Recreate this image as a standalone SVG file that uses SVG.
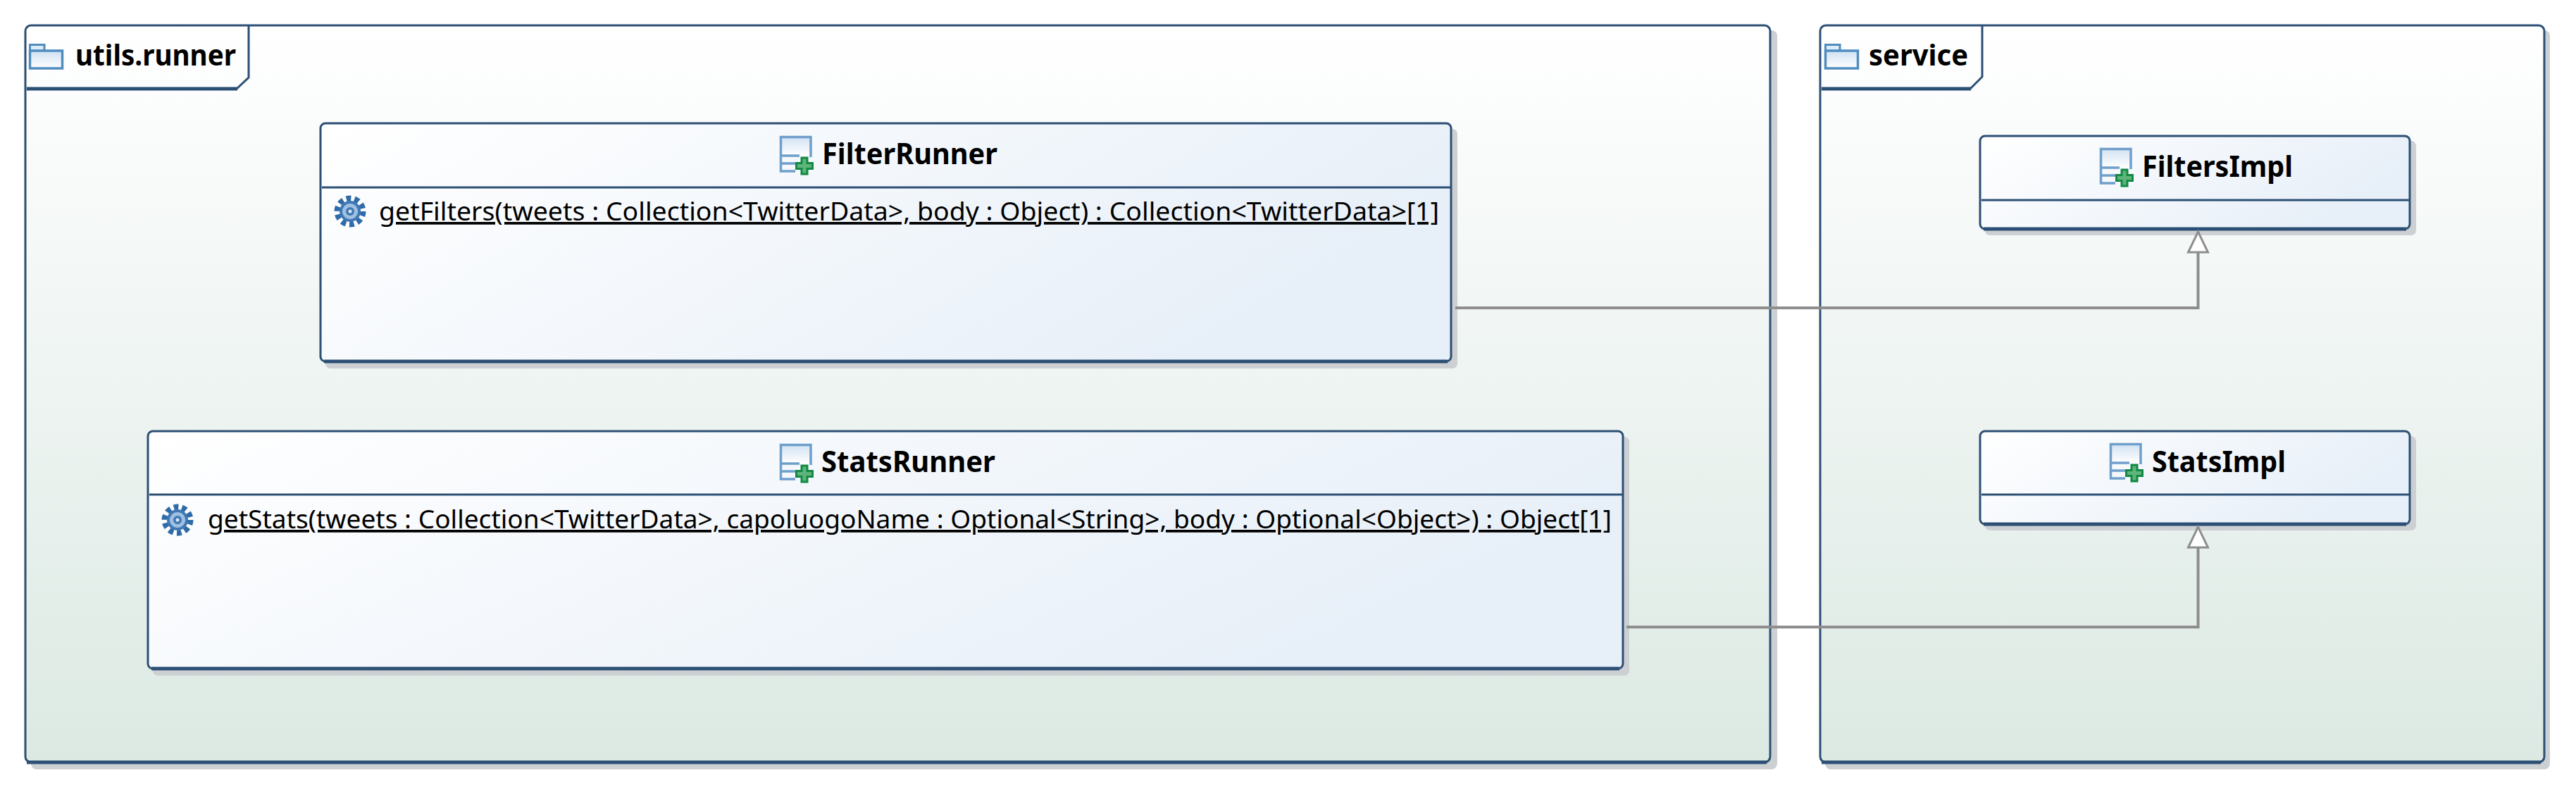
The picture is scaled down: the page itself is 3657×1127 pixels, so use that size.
<svg xmlns="http://www.w3.org/2000/svg" xmlns:xlink="http://www.w3.org/1999/xlink" width="3657" height="1127" viewBox="0 0 3657 1127">
<style>
.shadow{fill:#cdd0d2;stroke:none}
.border{stroke:#2c4f75;stroke-width:3;fill:none}
.pkgbg{fill:url(#pkgGrad);stroke:#2c4f75;stroke-width:3}
.clsbg{fill:url(#clsGrad);stroke:#2c4f75;stroke-width:3}
.thick{stroke:#2c4f75;stroke-width:5;fill:none}
.div{stroke:#2c4f75;stroke-width:3;fill:none}
.title{font-family:"Noto Sans","Open Sans",sans-serif;font-weight:700;font-size:42px;fill:#000}
.op{font-family:"Noto Sans","Open Sans",sans-serif;font-weight:400;font-size:37px;fill:#000;text-decoration:underline}
.conn{stroke:#8e8e8e;stroke-width:4;fill:none}
</style>
<defs>
<linearGradient id="pkgGrad" x1="0" y1="0" x2="0" y2="1"><stop offset="0" stop-color="#ffffff"/><stop offset="1" stop-color="#dce9e3"/></linearGradient>
<linearGradient id="clsGrad" x1="0" y1="0" x2="1" y2="0.35"><stop offset="0" stop-color="#ffffff"/><stop offset="1" stop-color="#e7eff8"/></linearGradient>
<linearGradient id="iconGrad" x1="0" y1="0" x2="0" y2="1"><stop offset="0" stop-color="#cfe0f2"/><stop offset="1" stop-color="#ffffff"/></linearGradient>
<marker id="gen" markerUnits="userSpaceOnUse" markerWidth="36" markerHeight="36" refX="32" refY="17" orient="auto" viewBox="0 0 36 34">
<path d="M3 3 L32 17 L3 31 Z" fill="#ffffff" stroke="#8e8e8e" stroke-width="3"/>
</marker>
<g id="classIcon">
<path d="M0 28 V0 H45 V28 H0" fill="url(#iconGrad)" stroke="none"/>
<path d="M44 30 V1.500 H1.500 V50 H22" fill="none" stroke="#6f9fcb" stroke-width="3.500"/>
<path d="M3 28 H28 M3 39 H22" fill="none" stroke="#6f9fcb" stroke-width="3.500"/>
<path d="M23.500 38.500 h7.500 v-7.500 h8 v7.500 h7.500 v8 h-7.500 v7.500 h-8 v-7.500 h-7.500 Z" fill="#5fb47c" stroke="#128a43" stroke-width="3"/>
</g>
<g id="folderIcon">
<path d="M1.500 11 V1.500 H22 V11" fill="#dcebf8" stroke="#4f8dbf" stroke-width="3"/>
<rect x="1.500" y="10" width="46" height="25" fill="url(#iconGrad)" stroke="#4f8dbf" stroke-width="3.500"/>
</g>
<g id="gearIcon">
<circle r="18" fill="none" stroke="#2f6ba8" stroke-width="9" stroke-dasharray="6.500 4.800"/>
<circle r="15" fill="#3f78b5"/>
<circle r="11" fill="#9fc0e0"/>
<circle r="6" fill="#3f78b5"/>
<circle r="2.500" fill="#dbe8f4"/>
</g>
</defs>
<rect width="3657" height="1127" fill="#ffffff"/>

<g id="pkg-utils-runner">
<rect class="shadow" x="44" y="43" width="2479" height="1049" rx="8"/>
<rect class="pkgbg" x="36" y="36" width="2477" height="1046" rx="8"/>
<path class="thick" d="M38 1082 H2508"/>
<path class="border" d="M353 36 V110 L336 126"/>
<path class="thick" d="M38 126 H337"/>
<use href="#folderIcon" x="41" y="62"/>
<text class="title" x="107" y="93" textLength="228" lengthAdjust="spacingAndGlyphs">utils.runner</text>
</g>

<g id="pkg-service">
<rect class="shadow" x="2591" y="43" width="1029" height="1049" rx="8"/>
<rect class="pkgbg" x="2584" y="36" width="1028" height="1046" rx="8"/>
<path class="thick" d="M2586 1082 H3607"/>
<path class="border" d="M2814 36 V109 L2797 126"/>
<path class="thick" d="M2586 126 H2798"/>
<use href="#folderIcon" x="2590" y="62"/>
<text class="title" x="2653" y="93" textLength="141" lengthAdjust="spacingAndGlyphs">service</text>
</g>

<g id="class-FilterRunner">
<rect class="shadow" x="462" y="183" width="1607" height="340" rx="7"/>
<rect class="clsbg" x="455" y="175" width="1605" height="338" rx="7"/>
<path class="thick" d="M460 513 H2055"/>
<path class="div" d="M457 266 H2059"/>
<use href="#classIcon" x="1107" y="193"/>
<text class="title" x="1167" y="233" textLength="249" lengthAdjust="spacingAndGlyphs">FilterRunner</text>
<use href="#gearIcon" x="497" y="300"/>
<text class="op" x="538" y="313" textLength="1505" lengthAdjust="spacingAndGlyphs">getFilters(tweets : Collection&lt;TwitterData&gt;, body : Object) : Collection&lt;TwitterData&gt;[1]</text>
</g>

<g id="class-StatsRunner">
<rect class="shadow" x="217" y="620" width="2096" height="339" rx="7"/>
<rect class="clsbg" x="210" y="612" width="2094" height="337" rx="7"/>
<path class="thick" d="M215 949 H2299"/>
<path class="div" d="M212 702 H2303"/>
<use href="#classIcon" x="1107" y="630"/>
<text class="title" x="1166" y="670" textLength="247" lengthAdjust="spacingAndGlyphs">StatsRunner</text>
<use href="#gearIcon" x="252" y="738"/>
<text class="op" x="295" y="750" textLength="1993" lengthAdjust="spacingAndGlyphs">getStats(tweets : Collection&lt;TwitterData&gt;, capoluogoName : Optional&lt;String&gt;, body : Optional&lt;Object&gt;) : Object[1]</text>
</g>

<g id="class-FiltersImpl">
<rect class="shadow" x="2818" y="200" width="612" height="134" rx="7"/>
<rect class="clsbg" x="2811" y="193" width="610" height="132" rx="7"/>
<path class="thick" d="M2816 325 H3416"/>
<path class="div" d="M2813 284 H3420"/>
<use href="#classIcon" x="2981" y="210"/>
<text class="title" x="3041" y="251" textLength="214" lengthAdjust="spacingAndGlyphs">FiltersImpl</text>
</g>

<g id="class-StatsImpl">
<rect class="shadow" x="2818" y="619" width="612" height="134" rx="7"/>
<rect class="clsbg" x="2811" y="612" width="610" height="132" rx="7"/>
<path class="thick" d="M2816 744 H3416"/>
<path class="div" d="M2813 702 H3420"/>
<use href="#classIcon" x="2995" y="629"/>
<text class="title" x="3055" y="670" textLength="190" lengthAdjust="spacingAndGlyphs">StatsImpl</text>
</g>

<g id="connectors">
<path class="conn" d="M2066 437 H3120.500 V329" marker-end="url(#gen)"/>
<path class="conn" d="M2309 890 H3120.500 V748" marker-end="url(#gen)"/>
</g>
</svg>
